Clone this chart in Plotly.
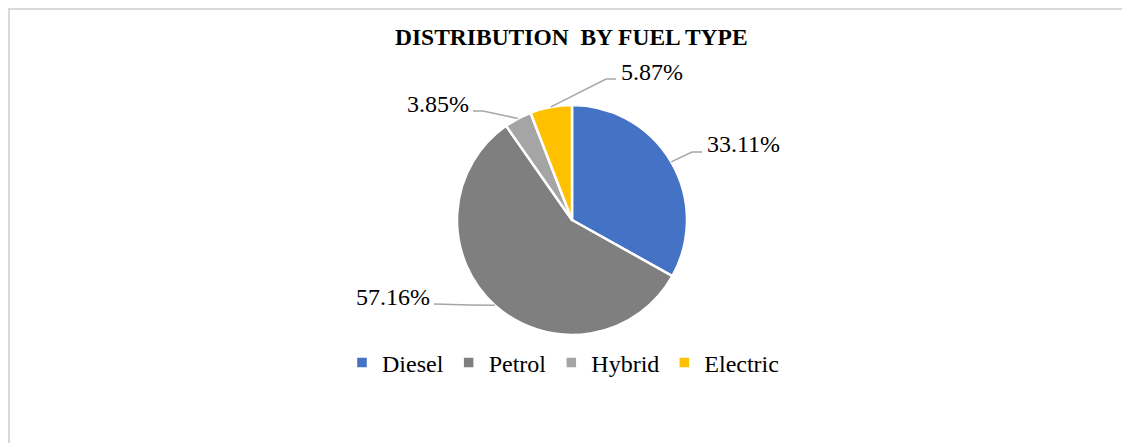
import math
import plotly.graph_objects as go

# data
fuel_types = ["Diesel", "Petrol", "Hybrid", "Electric"]
shares = [33.11, 57.16, 3.85, 5.87]
colors = ["#4472C4", "#7F7F7F", "#A5A5A5", "#FFC000"]

W, H = 1130, 443
OFF = 8  # default page body margin
FW, FH = W - OFF, H - OFF
CX, CY, R = 572, 220, 115  # pie centre / radius in window pixels

# label placement (window pixels): elbow of leader line, end of line, text anchor
label_style = {
    "Diesel":   dict(elbow=(692, 152), end=(702, 152), text=(705, 144), anchor="left"),
    "Petrol":   dict(elbow=(470, 305), end=(434, 304), text=(432, 297), anchor="right"),
    "Hybrid":   dict(elbow=(483, 111), end=(473, 111), text=(471, 104), anchor="right"),
    "Electric": dict(elbow=(606, 79), end=(616, 79), text=(619, 72), anchor="left"),
}

FONT = "Liberation Serif, Times New Roman, serif"


def px(x):
    return (x - OFF) / FW


def py(y):
    return 1 - (y - OFF) / FH


fig = go.Figure()
fig.add_trace(go.Pie(
    labels=fuel_types,
    values=shares,
    sort=False,
    direction="clockwise",
    rotation=0,
    textinfo="none",
    hoverinfo="label+percent",
    marker=dict(colors=colors, line=dict(color="white", width=2.5)),
    domain=dict(x=[px(CX - R), px(CX + R)], y=[py(CY + R), py(CY - R)]),
))

shapes = []
annotations = []
total = sum(shares)
cum = 0
for name, val in zip(fuel_types, shares):
    mid = (cum + val / 2) / total * 2 * math.pi
    cum += val
    ex = CX + R * math.sin(mid)
    ey = CY - R * math.cos(mid)
    st = label_style[name]
    pts = [(ex, ey), st["elbow"], st["end"]]
    path = "M " + " L ".join(f"{px(x):.5f},{py(y):.5f}" for x, y in pts)
    shapes.append(dict(type="path", xref="paper", yref="paper", path=path,
                       line=dict(color="#A6A6A6", width=1.5)))
    annotations.append(dict(
        x=px(st["text"][0]), y=py(st["text"][1]), xref="paper", yref="paper",
        text=f"{val:.2f}%", showarrow=False, xanchor=st["anchor"], yanchor="middle",
        font=dict(family=FONT, size=24, color="#000000"),
    ))

# chart frame (only top and left edges visible)
shapes.append(dict(type="line", xref="paper", yref="paper", x0=0, x1=1, y0=py(OFF + 1), y1=py(OFF + 1),
                   line=dict(color="#D9D9D9", width=2)))
shapes.append(dict(type="line", xref="paper", yref="paper", x0=px(OFF + 1), x1=px(OFF + 1), y0=0, y1=1,
                   line=dict(color="#D9D9D9", width=2)))

annotations.append(dict(
    x=px(571), y=py(37), xref="paper", yref="paper", showarrow=False,
    text="<b>DISTRIBUTION  BY FUEL TYPE</b>", xanchor="center", yanchor="middle",
    font=dict(family=FONT, size=23.5, color="#000000"),
))

fig.update_layout(
    width=FW, height=FH,
    margin=dict(l=0, r=0, t=0, b=0),
    paper_bgcolor="white",
    plot_bgcolor="white",
    showlegend=True,
    legend=dict(
        orientation="h", x=px(563), xanchor="center", y=py(363), yanchor="middle",
        font=dict(family=FONT, size=24, color="#000000"),
        traceorder="normal",
    ),
    shapes=shapes,
    annotations=annotations,
)

fig.write_html("out.html")
